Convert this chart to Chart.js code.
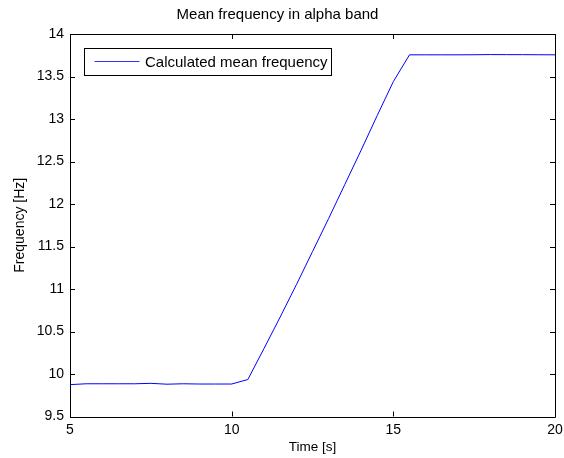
<!DOCTYPE html>
<html><head><meta charset="utf-8">
<script src="https://cdn.jsdelivr.net/npm/chart.js@4/dist/chart.umd.min.js"></script>
<style>html,body{margin:0;padding:0;background:#fff;}canvas{display:block;}</style>
</head><body>
<canvas id="c" width="564" height="458"></canvas>
<script>
const timeS = [5,5.5,6,6.5,7,7.5,8,8.5,9,9.5,10,10.5,11,11.5,12,12.5,13,13.5,14,14.5,15,15.5,16,16.5,17,17.5,18,18.5,19,19.5,20];
const meanFreq = [9.875,9.885,9.885,9.885,9.885,9.89,9.88,9.885,9.882,9.882,9.882,9.935,10.30,10.67,11.05,11.44,11.83,12.23,12.63,13.04,13.44,13.755,13.755,13.755,13.755,13.756,13.758,13.757,13.757,13.756,13.755];
const xTicks = [5,10,15,20];
const yTicks = [9.5,10,10.5,11,11.5,12,12.5,13,13.5,14];
const titleText = 'Mean frequency in alpha band';
const xLabel = 'Time [s]';
const yLabel = 'Frequency [Hz]';
const seriesLabel = 'Calculated mean frequency';

const FONT = 'Liberation Sans, Arial, Helvetica, sans-serif';

const boxPlugin = {
  id: 'matlabBox',
  afterDatasetsDraw(chart) {
    const {ctx, chartArea: a, scales} = chart;
    ctx.save();
    ctx.strokeStyle = '#000';
    ctx.lineWidth = 1;
    ctx.beginPath();
    ctx.rect(Math.round(a.left)+0.5, Math.round(a.top)+0.5, Math.round(a.right-a.left), Math.round(a.bottom-a.top));
    ctx.stroke();
    const tl = 5;
    ctx.beginPath();
    scales.x.ticks.forEach((t,i) => {
      const px = Math.round(scales.x.getPixelForTick(i))+0.5;
      ctx.moveTo(px, a.bottom); ctx.lineTo(px, a.bottom - tl);
      ctx.moveTo(px, a.top); ctx.lineTo(px, a.top + tl);
    });
    scales.y.ticks.forEach((t,i) => {
      const py = Math.round(scales.y.getPixelForTick(i))+0.5;
      ctx.moveTo(a.left, py); ctx.lineTo(a.left + tl, py);
      ctx.moveTo(a.right, py); ctx.lineTo(a.right - tl, py);
    });
    ctx.stroke();
    // legend
    ctx.font = '15px ' + FONT;
    const tw = ctx.measureText(seriesLabel).width;
    const bx = Math.round(a.left + 14) + 0.5, by = Math.round(a.top + 14) + 0.5;
    const bw = Math.round(tw + 64), bh = 27;
    ctx.fillStyle = '#fff';
    ctx.fillRect(bx, by, bw, bh);
    ctx.strokeStyle = '#000';
    ctx.strokeRect(bx, by, bw, bh);
    ctx.strokeStyle = '#3333ff';
    ctx.beginPath();
    ctx.moveTo(bx + 10, by + 13); ctx.lineTo(bx + 55, by + 13);
    ctx.stroke();
    ctx.fillStyle = '#000';
    ctx.textBaseline = 'middle';
    ctx.fillText(seriesLabel, bx + 60.5, by + 14);
    ctx.restore();
  }
};

new Chart(document.getElementById('c'), {
  type: 'line',
  data: {
    datasets: [{
      label: seriesLabel,
      data: timeS.map((t,i) => ({x: t, y: meanFreq[i]})),
      borderColor: '#0000ff',
      borderWidth: 1,
      pointRadius: 0,
      tension: 0,
      fill: false
    }]
  },
  options: {
    responsive: false,
    animation: false,
    layout: {padding: {left: 0, right: 9, top: 0, bottom: 0}},
    plugins: {
      legend: {display: false},
      tooltip: {enabled: false},
      title: {display: true, text: titleText, color: '#000',
        font: {family: FONT, size: 15, weight: 'normal'}, padding: {top: 6, bottom: 10}}
    },
    scales: {
      x: {
        type: 'linear', min: 5, max: 20,
        afterBuildTicks: s => { s.ticks = xTicks.map(v => ({value: v})); },
        afterFit: s => { s.height = 41.5; s.paddingRight = 0; },
        grid: {display: false, drawTicks: false},
        border: {display: false},
        ticks: {color: '#000', padding: 5, font: {family: FONT, size: 14}, maxRotation: 0},
        title: {display: true, text: xLabel, color: '#000', padding: {top: 2, bottom: 3}, font: {family: FONT, size: 13.5}}
      },
      y: {
        type: 'linear', min: 9.5, max: 14,
        afterBuildTicks: s => { s.ticks = yTicks.map(v => ({value: v})); },
        afterFit: s => { s.width = 70; },
        grid: {display: false, drawTicks: false},
        border: {display: false},
        ticks: {color: '#000', padding: 6, font: {family: FONT, size: 14}, callback: v => String(v)},
        title: {display: true, text: yLabel, color: '#000', padding: {top: 12, bottom: 0}, font: {family: FONT, size: 14}}
      }
    }
  },
  plugins: [boxPlugin]
});
</script>
</body></html>
